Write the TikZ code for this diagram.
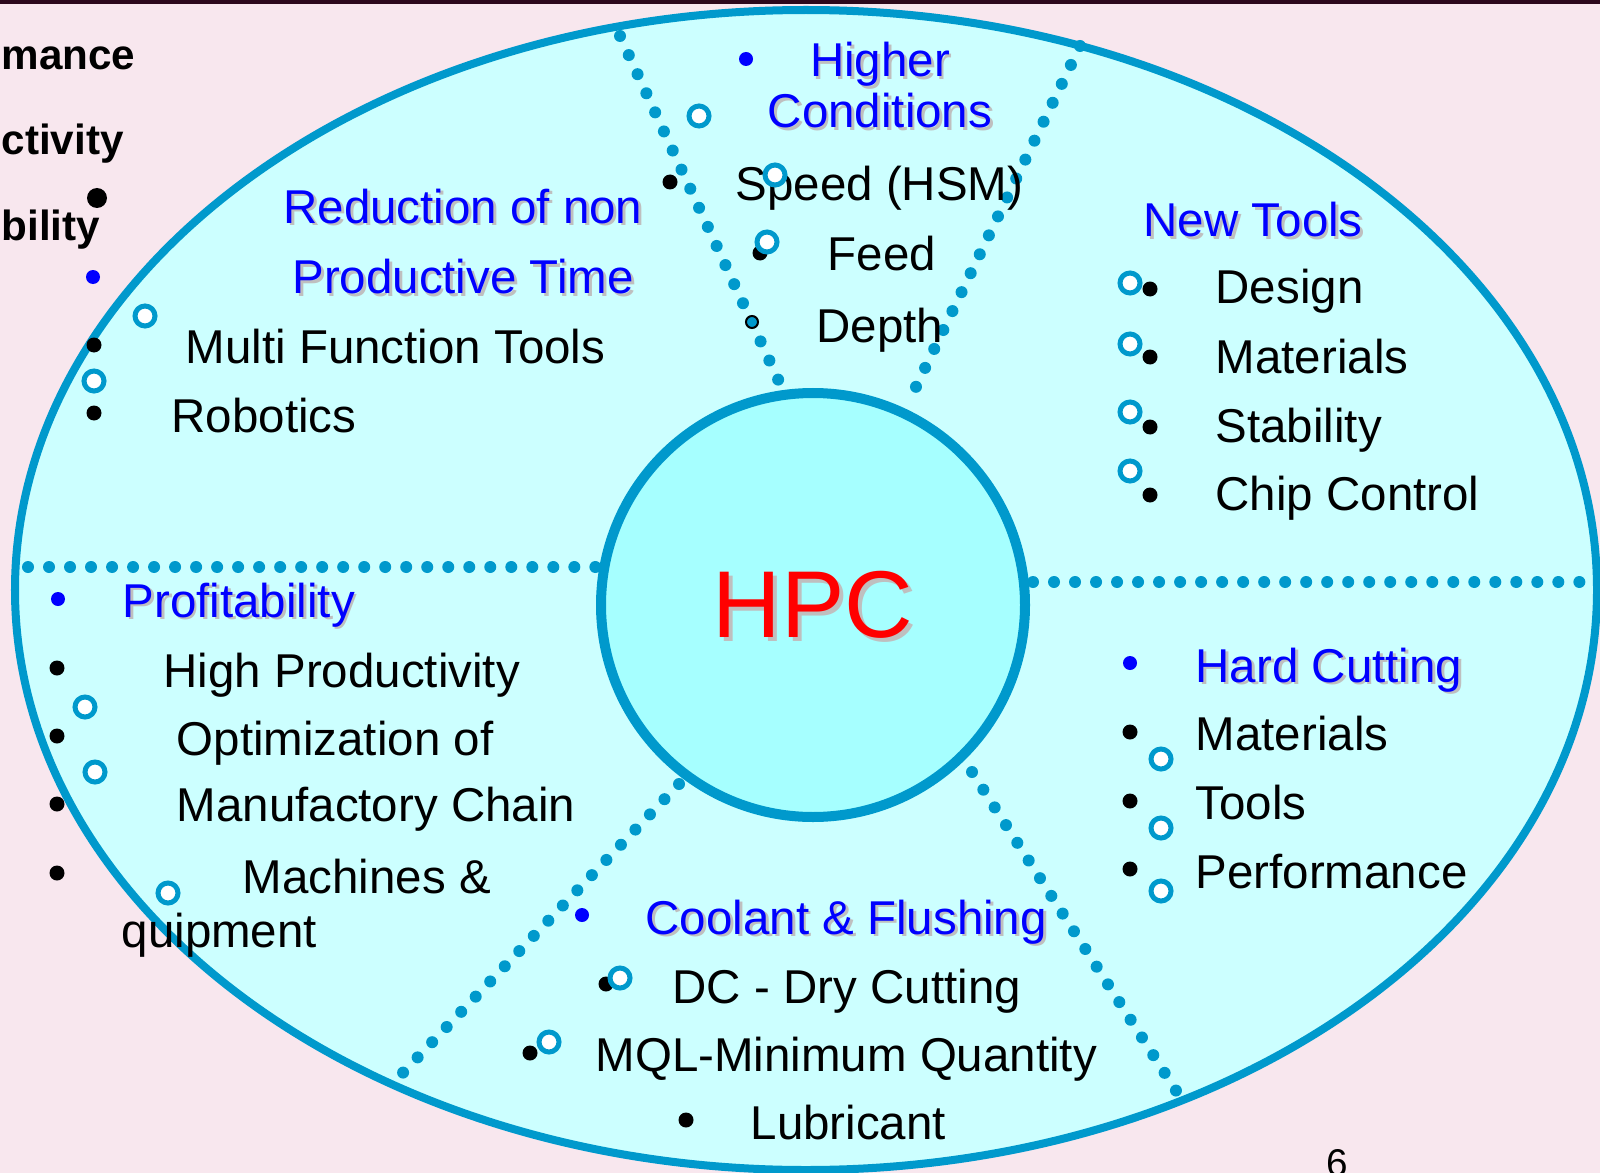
\documentclass[tikz,border=0pt]{standalone}
\usepackage{fontspec}
\setmainfont{Liberation Sans}

\definecolor{slidepink}{RGB}{248,231,238}
\definecolor{barmaroon}{RGB}{45,8,28}
\definecolor{rimblue}{RGB}{0,153,204}
\definecolor{fieldcyan}{RGB}{204,255,255}
\definecolor{hubcyan}{RGB}{166,255,255}

% grey drop shadow behind a word
\newcommand{\shadowed}[2][0.8pt]{\rlap{\kern#1\raisebox{-#1}{\color{gray!50}#2}}#2}

\begin{document}
\begin{tikzpicture}[x=0.01cm, y=-0.01cm,
  txt/.style={font=\fontsize{13.5}{16}\selectfont, inner sep=0pt, anchor=base west},
  head/.style={txt, text=blue},
  cut/.style={font=\fontsize{12}{15}\selectfont\bfseries, inner sep=0pt, anchor=base west},
  sepline/.style={rimblue, line width=0.12cm, line cap=round, dash pattern=on 0pt off 0.21cm},
  ring/.style={draw=rimblue, line width=0.05cm, fill=white}]

\useasboundingbox (0,0) rectangle (1600,1173);
\fill [slidepink] (0,0) rectangle (1600,1173);
\fill [barmaroon] (0,0) rectangle (1600,4);

% outer field
\draw [rimblue, line width=0.08cm, fill=fieldcyan] (806,590) ellipse [x radius=791, y radius=580];

% dotted separators
\coordinate (lw) at (28,567);   \coordinate (le) at (607,567);
\coordinate (re) at (1033,582); \coordinate (rw) at (1587,582);
\coordinate (tl) at (620,36);   \coordinate (tlh) at (782,388);
\coordinate (tr) at (1080,46);  \coordinate (trh) at (913,393);
\coordinate (bl) at (396,1080); \coordinate (blh) at (679,784);
\coordinate (br) at (1182,1100);\coordinate (brh) at (972,772);
\draw [sepline] (lw) -- (le);
\draw [sepline] (re) -- (rw);
\draw [sepline] (tl) -- (tlh);
\draw [sepline] (tr) -- (trh);
\draw [sepline] (blh) -- (bl);
\draw [sepline] (brh) -- (br);

% hub
\draw [rimblue, line width=0.1cm, fill=hubcyan] (813,605) circle [radius=212];
\node [font=\fontsize{27}{30}\selectfont, text=red, inner sep=0pt] (hpc) at (813,607) {\shadowed[1.2pt]{HPC}};

% cut-off words at the left edge
\node [cut] (mance) at (1,70) {mance};
\node [cut] (ctivity) at (1,155) {ctivity};
\node [cut] (bility) at (1,240) {bility};
\fill (97,198) circle [radius=10];
\fill [blue] (93,277) circle [radius=7];

% top sector
\node [head, anchor=base] (higher) at (880,77) {\shadowed{Higher}};
\node [head, anchor=base] (cond) at (880,128) {\shadowed{Conditions}};
\node [txt] (speed) at (735,201) {Speed (HSM)};
\node [txt] (feed) at (827,271) {Feed};
\node [txt] (depth) at (816,342) {Depth};
\fill [blue] (746,59) circle [radius=7];
\fill (670,182) circle [radius=7.5];
\fill (760,253) circle [radius=7.5];
\draw [fill=rimblue, line width=0.02cm] (752,322) circle [radius=6];
\draw [ring] (699,116) circle [radius=10];
\draw [ring] (775,175) circle [radius=10];
\draw [ring] (767,242) circle [radius=10];

% upper left sector
\node [head, anchor=base] (reduce) at (463,223) {\shadowed{Reduction of non}};
\node [head, anchor=base] (prodtime) at (463,294) {\shadowed{Productive Time}};
\node [txt] (multi) at (185,363) {Multi Function Tools};
\node [txt] (robotics) at (171,432) {Robotics};
\fill (94,345) circle [radius=7.5];
\fill (94,413) circle [radius=7.5];
\draw [ring] (145,316) circle [radius=10];
\draw [ring] (94,381) circle [radius=10];

% upper right sector
\node [head] (newtools) at (1143,237) {\shadowed{New Tools}};
\node [txt] (design) at (1215,304) {Design};
\node [txt] (materials) at (1215,373) {Materials};
\node [txt] (stability) at (1215,442) {Stability};
\node [txt] (chip) at (1215,510) {Chip Control};
\foreach \y in {289,357,427,495} \fill (1150,\y) circle [radius=7.5];
\foreach \y in {283,344,412,471} \draw [ring] (1130,\y) circle [radius=10];

% lower left sector
\node [head] (profit) at (122,617) {\shadowed{Profitability}};
\node [txt] (highprod) at (163,687) {High Productivity};
\node [txt] (optim) at (176,755) {Optimization of};
\node [txt] (manuf) at (176,821) {Manufactory Chain};
\node [txt] (machines) at (242,893) {Machines \&};
\node [txt] (quip) at (121,947) {quipment};
\fill [blue] (58,599) circle [radius=7];
\foreach \y in {668,736,804,873} \fill (57,\y) circle [radius=7.5];
\draw [ring] (85,707) circle [radius=10];
\draw [ring] (95,772) circle [radius=10];
\draw [ring] (168,893) circle [radius=10];

% bottom sector
\node [head] (coolant) at (645,934) {\shadowed{Coolant \& Flushing}};
\node [txt] (dry) at (672,1003) {DC - Dry Cutting};
\node [txt] (mql) at (595,1071) {MQL-Minimum Quantity};
\node [txt] (lubric) at (750,1139) {Lubricant};
\fill [blue] (582,915) circle [radius=7];
\fill (606,984) circle [radius=7.5];
\fill (530,1053) circle [radius=7.5];
\fill (686,1120) circle [radius=7.5];
\draw [ring] (620,978) circle [radius=10];
\draw [ring] (549,1042) circle [radius=10];

% lower right sector
\node [head] (hard) at (1195,682) {\shadowed{Hard Cutting}};
\node [txt] (hmat) at (1195,750) {Materials};
\node [txt] (htools) at (1195,819) {Tools};
\node [txt] (hperf) at (1195,888) {Performance};
\fill [blue] (1130,663) circle [radius=7];
\foreach \y in {732,801,869} \fill (1130,\y) circle [radius=7.5];
\foreach \y in {759,828,891} \draw [ring] (1161,\y) circle [radius=10];

% page number
\node [font=\fontsize{11}{13}\selectfont, anchor=north, inner sep=0pt] (pagenum) at (1337,1149) {6};

\end{tikzpicture}
\end{document}
